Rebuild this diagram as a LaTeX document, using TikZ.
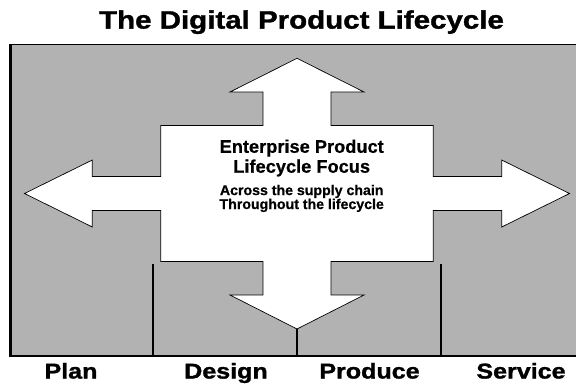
\documentclass[tikz,border=0pt]{standalone}
\usepackage{fontspec}
\setmainfont{Liberation Sans}
\newfontfamily\widesans[FakeStretch=1.17, FakeBold=1.4]{Liberation Sans}
\newfontfamily\focussans[FakeBold=0.6]{Liberation Sans}
\usetikzlibrary{positioning}
\definecolor{panel}{HTML}{B2B2B2}
\tikzset{
  panelfill/.style={fill=panel},
  frameline/.style={draw=black, line width=2.6pt},
  topline/.style={draw=black, line width=1pt},
  divider/.style={draw=black, line width=2.4pt},
  crossarrow/.style={fill=white, draw=black, line width=0.7pt, line join=miter},
  heading/.style={font=\widesans\bfseries\fontsize{25.3}{28}\selectfont, anchor=base, inner sep=0pt},
  phase/.style={font=\widesans\bfseries\fontsize{21.5}{24}\selectfont, anchor=base, inner sep=0pt},
  bigfocus/.style={font=\focussans\bfseries\fontsize{18.3}{20}\selectfont, align=center, anchor=base, inner sep=0pt},
  smallfocus/.style={font=\focussans\bfseries\fontsize{14.2}{14}\selectfont, align=center, anchor=base, inner sep=0pt},
}

\begin{document}
\begin{tikzpicture}[x=1bp, y=-1bp]
  \useasboundingbox (0,0) rectangle (576,383);

  % panel
  \fill[panelfill] (10,44.5) rectangle (576,356);

  % the four-way arrow
  \begin{scope}[shift={(297,193.5)}]
    \draw[crossarrow] (0,-135.2) -- (67,-101.5) -- (34,-101.5) -- (34,-68)
      -- (136.3,-68) -- (136.3,-17) -- (204.7,-17) -- (204.7,-33.5)
      -- (272.5,0) -- (204.7,33.5) -- (204.7,17) -- (136.3,17)
      -- (136.3,68) -- (34,68) -- (34,101.5) -- (67,101.5)
      -- (0,135.5) -- (-67,101.5) -- (-34,101.5) -- (-34,68)
      -- (-136.3,68) -- (-136.3,17) -- (-204.7,17) -- (-204.7,33.5)
      -- (-272.5,0) -- (-204.7,-33.5) -- (-204.7,-17) -- (-136.3,-17)
      -- (-136.3,-68) -- (-34,-68) -- (-34,-101.5) -- (-67,-101.5) -- cycle;
  \end{scope}

  % dividers between the phases
  \coordinate (tip) at (297,329);
  \draw[divider] (153.3,263.5) -- (153.3,356);
  \draw[divider] (tip) -- (297,356);
  \draw[divider] (440.7,263.5) -- (440.7,356);

  % frame
  \draw[topline] (9,44.5) -- (576,44.5);
  \draw[frameline] (10.5,44) -- (10.5,357.3);
  \draw[frameline] (9.2,356) -- (576,356);

  % texts
  \node[heading] (title) at (301.5,28.6) {The Digital Product Lifecycle};
  \node[bigfocus] (focustitle) at (301.7,172.7) {Enterprise Product\\Lifecycle Focus};
  \node[smallfocus] (focusnote) at (301.7,209) {Across the supply chain\\Throughout the lifecycle};
  \node[phase] (plan) at (71,378.5) {Plan};
  \node[phase] (design) at (226,378.5) {Design};
  \node[phase] (produce) at (369.5,378.5) {Produce};
  \node[phase] (service) at (521,378.5) {Service};
\end{tikzpicture}
\end{document}
